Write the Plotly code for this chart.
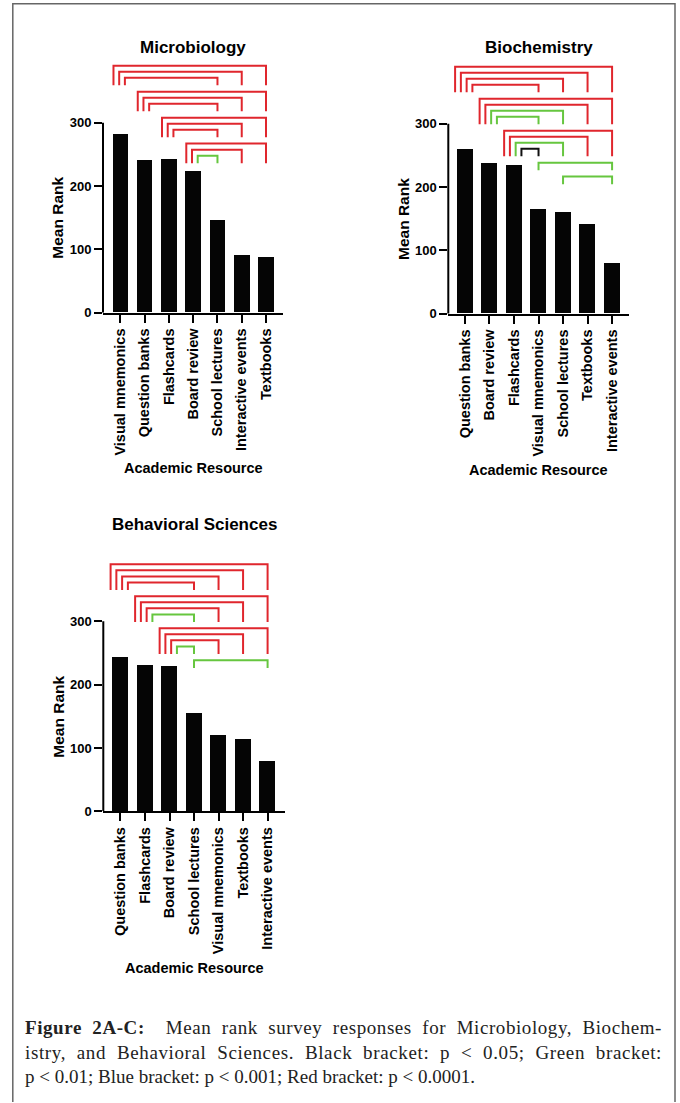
import plotly.graph_objects as go

# ---------------- data ----------------
micro_cats = ["Visual mnemonics", "Question banks", "Flashcards", "Board review",
              "School lectures", "Interactive events", "Textbooks"]
micro_vals = [282, 241, 242, 223, 146, 91, 87]
micro_comps = [(0, 6, "****"), (0, 5, "****"), (0, 4, "****"),
               (1, 6, "****"), (1, 5, "****"), (1, 4, "****"),
               (2, 6, "****"), (2, 5, "****"), (2, 4, "****"),
               (3, 6, "****"), (3, 5, "****"), (3, 4, "**")]

bio_cats = ["Question banks", "Board review", "Flashcards", "Visual mnemonics",
            "School lectures", "Textbooks", "Interactive events"]
bio_vals = [259, 238, 234, 164, 160, 141, 80]
bio_comps = [(0, 6, "****"), (0, 5, "****"), (0, 4, "****"), (0, 3, "****"),
             (1, 6, "****"), (1, 5, "****"), (1, 4, "**"), (1, 3, "**"),
             (2, 6, "****"), (2, 5, "****"), (2, 4, "**"), (2, 3, "*"),
             (3, 6, "**"),
             (4, 6, "**")]

beh_cats = ["Question banks", "Flashcards", "Board review", "School lectures",
            "Visual mnemonics", "Textbooks", "Interactive events"]
beh_vals = [244, 231, 229, 155, 120, 114, 80]
beh_comps = [(0, 6, "****"), (0, 5, "****"), (0, 4, "****"), (0, 3, "****"),
             (1, 6, "****"), (1, 5, "****"), (1, 4, "****"), (1, 3, "**"),
             (2, 6, "****"), (2, 5, "****"), (2, 4, "****"), (2, 3, "**"),
             (3, 6, "**")]

y_ticks = [0, 100, 200, 300]
titles = ["Microbiology", "Biochemistry", "Behavioral Sciences"]
caption_lines = ["<b>Figure 2A-C:</b>\u00a0 Mean rank survey responses for Microbiology, Biochem-",
                 "istry, and Behavioral Sciences. Black bracket: p &lt; 0.05; Green bracket:",
                 "p &lt; 0.01; Blue bracket: p &lt; 0.001; Red bracket: p &lt; 0.0001."]

# ---------------- styles / layout ----------------
W, H = 680, 1103
K = 0.638      # px per unit on the value axis
YMAX = 400
SIG_COLORS = {"*": "#111111", "**": "#66c63f", "***": "#2f5fd0", "****": "#e0262d"}
FONT = "Liberation Sans, Arial, sans-serif"

panels = [
    dict(cats=micro_cats, vals=micro_vals, comps=micro_comps, title=titles[0],
         x0=103, x1=283, zero=315, xr=[-0.717, 6.70], title_y=48, xt_y=471.7),
    dict(cats=bio_cats, vals=bio_vals, comps=bio_comps, title=titles[1],
         x0=448.3, x1=629, zero=316, xr=[-0.68, 6.69], title_y=48, xt_y=473),
    dict(cats=beh_cats, vals=beh_vals, comps=beh_comps, title=titles[2],
         x0=103.3, x1=285, zero=817.3, xr=[-0.70, 6.71], title_y=528, xt_y=975),
]


def px(x):
    return x / W


def py(y):
    return 1 - y / H


def bracket_layout(comps, top=390.0, step=9.5, drop=12.0, gap=10.0, spread=0.235):
    groups = []
    for c in comps:
        if groups and groups[-1][0][0] == c[0]:
            groups[-1].append(c)
        else:
            groups.append([c])
    out = []
    cur = top
    for g in groups:
        g = sorted(g, key=lambda c: -c[1])
        n = len(g)
        bottom = cur - (n - 1) * step - drop
        for k, (a, b, s) in enumerate(g):
            off = 0.0 if n == 1 else (k - (n - 1) / 2) * spread - 0.05
            yl = cur - k * step
            out.append(([a + off, a + off, b, b], [bottom, yl, yl, bottom], s))
        cur = bottom - gap
    return out


fig = go.Figure()
shapes = []
annotations = []

for i, p in enumerate(panels):
    n = "" if i == 0 else str(i + 1)
    xa, ya = "x" + n, "y" + n
    xs = list(range(len(p["cats"])))
    fig.add_trace(go.Bar(x=xs, y=p["vals"], width=0.64, marker=dict(color="#050505", line=dict(width=0)),
                         xaxis=xa, yaxis=ya, showlegend=False, hoverinfo="skip"))
    # brackets
    by_sig = {}
    for bx, byv, s in bracket_layout(p["comps"]):
        d = by_sig.setdefault(s, ([], []))
        d[0].extend(bx + [None])
        d[1].extend(byv + [None])
    for s, (bx, byv) in by_sig.items():
        fig.add_trace(go.Scatter(x=bx, y=byv, mode="lines", line=dict(color=SIG_COLORS[s], width=2),
                                 xaxis=xa, yaxis=ya, showlegend=False, hoverinfo="skip"))
    top_px = p["zero"] - YMAX * K
    fig.layout["xaxis" + n] = dict(
        domain=[px(p["x0"]), px(p["x1"])], anchor=ya, range=p["xr"],
        tickvals=xs, ticktext=p["cats"], tickangle=-90,
        ticks="outside", ticklen=8, tickwidth=2, tickcolor="black",
        showline=True, linewidth=2, linecolor="black",
        showgrid=False, zeroline=False,
        tickfont=dict(family=FONT, size=14.5, color="black", weight="bold"), fixedrange=True)
    fig.layout["yaxis" + n] = dict(
        domain=[py(p["zero"]), py(top_px)], anchor=xa, range=[0, YMAX],
        tickvals=y_ticks, ticks="outside", ticklen=8, tickwidth=2, tickcolor="black",
        showline=False, showgrid=False, zeroline=False,
        tickfont=dict(family=FONT, size=13, color="black", weight="bold"), fixedrange=True)
    # y axis line only up to last tick
    shapes.append(dict(type="line", xref=xa + " domain", yref=ya, x0=0, x1=0, y0=0, y1=y_ticks[-1],
                       line=dict(color="black", width=2)))
    cx = (p["x0"] + p["x1"]) / 2
    annotations.append(dict(text=p["title"], x=px(cx), y=py(p["title_y"]), xref="paper", yref="paper",
                            showarrow=False, xanchor="center", yanchor="middle",
                            font=dict(family=FONT, size=17, color="black", weight="bold")))
    annotations.append(dict(text="Mean Rank", x=px(p["x0"] - 45), y=py(p["zero"] - y_ticks[-1] * K / 2),
                            xref="paper", yref="paper", textangle=-90, showarrow=False,
                            xanchor="center", yanchor="middle",
                            font=dict(family=FONT, size=15.5, color="black", weight="bold")))
    annotations.append(dict(text="Academic Resource", x=px(cx), y=py(p["xt_y"]), xref="paper", yref="paper",
                            showarrow=False, xanchor="center", yanchor="middle",
                            font=dict(family=FONT, size=14.5, color="black", weight="bold")))

CAP_LEFT, CAP_RIGHT = 23, 660
annotations.append(dict(text="<br>".join(caption_lines), x=px(CAP_LEFT), y=py(1060), xref="paper", yref="paper",
                        showarrow=False, xanchor="left", yanchor="middle", align="left",
                        font=dict(family="Liberation Serif, serif", size=19, color="#222222")))

# outer frame (open at the bottom)
fx0, fx1, fy0 = px(12.8), px(675), py(3.8)
shapes.append(dict(type="path", xref="paper", yref="paper",
                   path=f"M {fx0},{py(1110)} L {fx0},{fy0} L {fx1},{fy0} L {fx1},{py(1110)}",
                   line=dict(color="#666666", width=1.5)))

fig.update_layout(width=W, height=H, autosize=False, margin=dict(l=0, r=0, t=0, b=0),
                  paper_bgcolor="white", plot_bgcolor="white", bargap=0,
                  shapes=shapes, annotations=annotations, showlegend=False)

# justify the caption's first lines (like the printed paragraph):
# part of the extra width goes between letters, the rest between words
justify_js = """
document.body.style.margin='0';document.body.style.overflow='hidden';
var gd=document.getElementById('{plot_id}');
var ts=gd.querySelectorAll('text.annotation-text');
for(var i=0;i<ts.length;i++){
  var t=ts[i]; if(t.textContent.indexOf('Figure 2A')<0) continue;
  var lines=t.querySelectorAll('tspan.line');
  for(var j=0;j<lines.length-1;j++){
    var L=lines[j]; var w=L.getComputedTextLength();
    var txt=L.textContent; var nc=txt.length;
    var n=(txt.match(/[ \\u00a0]/g)||[]).length;
    if(n>0 && w<TARGET){
      var extra=TARGET-w; var ls=0.45*extra/nc;
      L.style.letterSpacing=ls+'px';
      var w2=L.getComputedTextLength();
      L.style.wordSpacing=Math.max(0,(TARGET-w2)/n)+'px';
    }
  }
}
""".replace("TARGET", str(CAP_RIGHT - CAP_LEFT))

fig.write_html("out.html", config={"displayModeBar": False}, post_script=justify_js)
